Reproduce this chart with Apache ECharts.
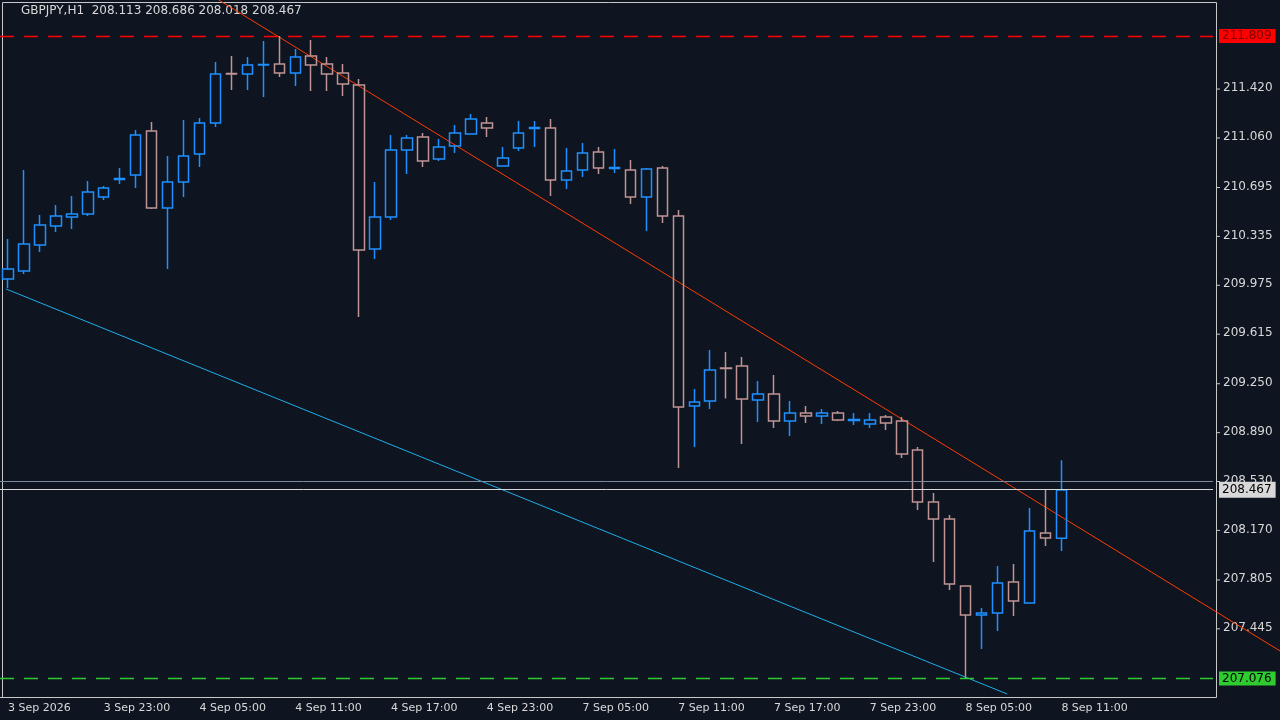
<!DOCTYPE html>
<html>
<head>
<meta charset="utf-8">
<script src="https://cdn.jsdelivr.net/npm/echarts@6/dist/echarts.min.js"></script>
<style>html,body{margin:0;background:#0e1420;}#c{width:1280px;height:720px;}</style>
</head>
<body>
<div id="c"></div>
<script>
// GBPJPY H1 candles: [open, close, low, high]
var candles = [
  [210.021,210.095,209.955,210.316],[210.080,210.279,210.058,210.824],[210.272,210.419,210.220,210.493],
  [210.412,210.485,210.368,210.566],[210.478,210.500,210.390,210.633],[210.500,210.662,210.485,210.743],
  [210.625,210.692,210.603,210.706],[210.754,210.762,210.721,210.839],[210.787,211.082,210.692,211.119],
  [211.111,210.544,210.537,211.178],[210.544,210.736,210.095,210.927],[210.736,210.927,210.625,211.192],
  [210.942,211.170,210.846,211.207],[211.170,211.531,211.141,211.619],[211.535,211.531,211.413,211.664],
  [211.531,211.597,211.413,211.656],[211.597,211.601,211.362,211.774],[211.605,211.538,211.509,211.811],
  [211.538,211.656,211.443,211.715],[211.664,211.597,211.406,211.781],[211.605,211.531,211.406,211.656],
  [211.538,211.457,211.369,211.605],[211.450,210.235,209.742,211.494],[210.242,210.478,210.169,210.736],
  [210.478,210.971,210.456,211.082],[210.971,211.060,210.795,211.082],[211.067,210.890,210.846,211.097],
  [210.905,210.994,210.890,211.052],[211.001,211.097,210.949,211.156],[211.089,211.200,211.089,211.237],
  [211.170,211.133,211.067,211.214],[210.854,210.913,210.854,210.994],[210.986,211.097,210.964,211.185],
  [211.130,211.137,210.994,211.185],[211.133,210.751,210.633,211.200],[210.751,210.817,210.684,210.986],
  [210.824,210.949,210.773,211.023],[210.957,210.839,210.795,210.994],[210.835,210.843,210.802,210.979],
  [210.824,210.625,210.574,210.898],[210.625,210.831,210.375,210.839],[210.839,210.485,210.434,210.854],
  [210.485,209.079,208.630,210.530],[209.086,209.116,208.784,209.211],[209.123,209.351,209.064,209.499],
  [209.366,209.362,209.141,209.484],[209.381,209.138,208.806,209.447],[209.131,209.175,208.968,209.270],
  [209.175,208.975,208.924,209.315],[208.975,209.035,208.865,209.123],[209.035,209.013,208.961,209.086],
  [209.013,209.035,208.954,209.064],[209.035,208.983,208.975,209.049],[208.979,208.987,208.946,209.035],
  [208.954,208.983,208.924,209.035],[209.005,208.961,208.910,209.020],[208.976,208.733,208.703,209.005],
  [208.762,208.379,208.320,208.784],[208.379,208.254,207.937,208.446],[208.254,207.775,207.731,208.284],
  [207.761,207.547,207.083,207.761],[207.547,207.562,207.297,207.599],[207.562,207.783,207.429,207.908],
  [207.790,207.650,207.540,207.923],[207.636,208.166,207.636,208.335],[208.151,208.114,208.055,208.468],
  [208.113,208.467,208.018,208.686]
];
var timeLabels = ['3 Sep 2026','3 Sep 23:00','4 Sep 05:00','4 Sep 11:00','4 Sep 17:00','4 Sep 23:00',
  '7 Sep 05:00','7 Sep 11:00','7 Sep 17:00','7 Sep 23:00','8 Sep 05:00','8 Sep 11:00'];
var priceTicks = [211.420,211.060,210.695,210.335,209.975,209.615,209.250,208.890,208.530,208.170,207.805,207.445];
var redLevel = 211.809, greenLevel = 207.076, bidLevel = 208.467, askLevel = 208.530;
// trend lines: [barIndex, price]
var trendDown = [[13.2,212.076],[79.69,207.282]];
var trendCyan = [[-0.125,209.948],[62.6,206.965]];

var yMin = 206.943, yMax = 212.076;
var slots = 76;
var cats = [];
for (var i = 0; i < slots; i++) cats.push(i % 6 === 0 && timeLabels[i / 6] ? timeLabels[i / 6] : '');

var chart = echarts.init(document.getElementById('c'));
var txt = '#d8d8d8';
chart.setOption({
  backgroundColor: '#0e1420',
  animation: false,
  textStyle: {fontFamily: 'DejaVu Sans'},
  grid: [
    {left: -3, right: 67, top: 0, bottom: 23},
    {left: -3, right: 0, top: 0, bottom: 23}
  ],
  xAxis: [
    {type: 'category', gridIndex: 0, data: cats, boundaryGap: true,
     axisLine: {lineStyle: {color: '#c8c8c8'}}, axisTick: {show: false},
     axisLabel: {interval: 0, color: txt, fontSize: 11, align: 'left', margin: 6},
     splitLine: {show: false}},
    {type: 'value', gridIndex: 1, min: -0.5, max: -0.5 + 1283 / 16, show: false}
  ],
  yAxis: [
    {type: 'value', gridIndex: 0, position: 'right', min: yMin, max: yMax, scale: true,
     axisLine: {show: false}, axisTick: {show: false},
     axisLabel: {show: false}, splitLine: {show: false}},
    {type: 'value', gridIndex: 1, min: yMin, max: yMax, show: false}
  ],
  series: [
    {type: 'line', xAxisIndex: 1, yAxisIndex: 1, data: trendDown, symbol: 'none',
     lineStyle: {color: '#ff3c00', width: 1}, clip: true, z: 1},
    {type: 'line', xAxisIndex: 1, yAxisIndex: 1, data: trendCyan, symbol: 'none',
     lineStyle: {color: '#1eaee8', width: 1}, clip: true, z: 1},
    {type: 'candlestick', xAxisIndex: 0, yAxisIndex: 0, data: candles, barWidth: 11,
     itemStyle: {color: 'transparent', color0: 'transparent', borderColor: '#1e90ff',
       borderColor0: '#c09494', borderWidth: 1.5},
     markLine: {symbol: 'none', silent: true, animation: false,
       label: {position: 'end', fontSize: 12, distance: 6, padding: [1, 4, 1, 3]},
       data: [
         {yAxis: askLevel, lineStyle: {color: '#7d8a9c', type: 'solid', width: 1}, label: {show: false}},
         {yAxis: bidLevel, lineStyle: {color: '#d8d8d8', type: 'solid', width: 1},
          label: {formatter: bidLevel.toFixed(3), color: '#000', backgroundColor: '#d8d8d8',
            padding: [3, 4, 1, 3]}},
         {yAxis: redLevel, lineStyle: {color: '#ff0000', type: [14, 10], width: 1.3},
          label: {formatter: redLevel.toFixed(3), color: '#7a0000', backgroundColor: '#ff0000'}},
         {yAxis: greenLevel, lineStyle: {color: '#2ecc2e', type: [14, 10], width: 1.3},
          label: {formatter: greenLevel.toFixed(3), color: '#000', backgroundColor: '#2ecc2e'}}
       ]}}
  ]
});

var g = [
  {type: 'text', left: 21, top: 5, style: {text: 'GBPJPY,H1  208.113 208.686 208.018 208.467',
    fill: txt, font: '12px DejaVu Sans'}},
  {type: 'rect', shape: {x: 2.5, y: 2.5, width: 1214, height: 695}, style: {fill: 'none', stroke: '#c8c8c8', lineWidth: 1}, z: 0}
];
priceTicks.forEach(function (p) {
  var y = chart.convertToPixel({yAxisIndex: 0}, p);
  g.push({type: 'text', x: 1223, y: y - 7, style: {text: p.toFixed(3), fill: txt, font: '12px DejaVu Sans'}, z: 0});
  g.push({type: 'line', shape: {x1: 1216, y1: y, x2: 1220, y2: y}, style: {stroke: '#c8c8c8'}});
});
chart.setOption({graphic: g});
</script>
</body>
</html>
